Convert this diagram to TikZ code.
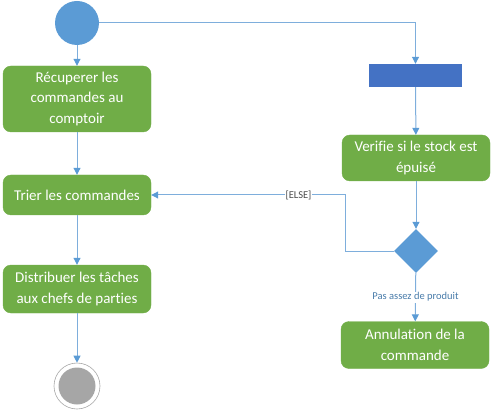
\documentclass[tikz,border=0pt]{standalone}
\usepackage{fontspec}
\setmainfont[Ligatures=NoCommon]{Carlito}
\usetikzlibrary{positioning,arrows.meta,shapes.geometric,calc}
\definecolor{actgreen}{HTML}{70AD47}
\definecolor{ctlblue}{HTML}{5B9BD5}
\definecolor{barblue}{HTML}{4472C4}
\definecolor{flowline}{HTML}{7EAEDC}
\begin{document}
\begin{tikzpicture}[
          x=1pt, y=-1pt,
          box/.style={draw=actgreen, fill=actgreen, rounded corners=8pt, minimum width=148pt, align=center, text=white, font=\fontsize{15}{20.5}\selectfont, inner sep=2pt},
          arr/.style={-{Triangle[length=7pt,width=7pt,color=ctlblue]}, draw=flowline, line width=1pt},
          lbl/.style={font=\fontsize{10.5}{12}\selectfont, inner sep=1pt}
      ]
        \useasboundingbox (0,0) rectangle (494,411);
        % left lane
        \node[circle, fill=ctlblue, minimum size=44pt, inner sep=0pt] (start) at (77,23) {};
        \node[box, minimum height=66pt] (fetch) at (77,99) {Récuperer les\\commandes au\\comptoir};
        \node[box, minimum height=40pt] (sort) at (77,195) {Trier les commandes};
        \node[box, minimum height=48pt] (dispatch) at (77,289) {Distribuer les tâches\\aux chefs de parties};
        \node[circle, draw=gray!70, line width=0.6pt, minimum size=46pt, inner sep=0pt] (stop) at (77,386) {};
        \node[circle, fill=gray!70, minimum size=37pt, inner sep=0pt] (stopin) at (stop) {};
        % right lane
        \node[rectangle, fill=barblue, minimum width=93pt, minimum height=23pt, inner sep=0pt] (fork) at (415.5,75.5) {};
        \node[box, minimum height=46pt] (check) at (416,158) {Verifie si le stock est\\épuisé};
        \node[diamond, fill=ctlblue, minimum size=44pt, inner sep=0pt] (decide) at (416,251) {};
        \node[box, minimum height=47pt] (cancel) at (415,345) {Annulation de la\\commande};
        \coordinate (corner) at (415.5,23);
        \coordinate (elsebend) at (345,251);
        \draw[arr] (start) -- (corner) -- (fork);
        \draw[arr] (start) -- (fetch);
        \draw[arr] (fetch) -- (sort);
        \draw[arr] (sort) -- (dispatch);
        \draw[arr] (dispatch) -- (stop);
        \draw[arr] (fork) -- (check);
        \draw[arr] (check) -- (decide);
        \draw[arr] (decide) -- node[lbl, fill=white, text=ctlblue!80!black, pos=0.5] {Pas assez de produit} (cancel);
        \draw[arr] (decide) -- (elsebend) |- node[lbl, fill=white, text=black!70, pos=0.62] {[ELSE]} (sort);
      \end{tikzpicture}
\end{document}
